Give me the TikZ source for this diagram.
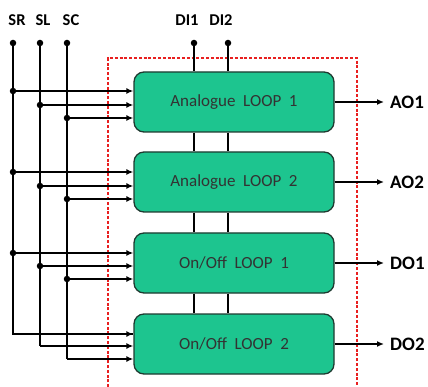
\documentclass[tikz,border=0pt]{standalone}
\usepackage{fontspec}
\setmainfont{Carlito}
\usetikzlibrary{arrows.meta}
\definecolor{boxgreen}{HTML}{1DC58F}
\definecolor{boxline}{HTML}{1E3A30}
\definecolor{dashred}{HTML}{E82020}
\begin{document}
\begin{tikzpicture}[x=1pt,y=-1pt,
  loopbox/.style={draw=boxline,line width=1.3pt,fill=boxgreen,rounded corners=10pt,
    minimum width=200pt,minimum height=60pt,inner sep=0pt,font=\fontsize{17}{20}\selectfont,text=black!80},
  wire/.style={line width=1.4pt,black},
  inarrow/.style={wire,-{Latex[length=7pt,width=6pt]}},
  dot/.style={circle,fill=black,inner sep=0pt,minimum size=6.5pt},
  lbl/.style={font=\bfseries\fontsize{16.5}{19}\selectfont},
  olbl/.style={font=\bfseries\fontsize{19}{22}\selectfont,anchor=west,inner sep=1pt}]
\useasboundingbox (0,0) rectangle (428,387);
% red dashed frame
\draw[dashred,line width=1.3pt,dash pattern=on 3pt off 1.8pt] (108,392) -- (108,58) -- (357,58) -- (357,392);
% boxes
\node[loopbox] (b1) at (234,102) {Analogue\ \ LOOP\ \ 1};
\node[loopbox] (b2) at (234,182) {Analogue\ \ LOOP\ \ 2};
\node[loopbox] (b3) at (234,263) {On/Off\ \ LOOP\ \ 1};
\node[loopbox] (b4) at (234,344) {On/Off\ \ LOOP\ \ 2};
% top terminals
\node[dot] (sr) at (13,43) {};
\node[dot] (sl) at (40,43) {};
\node[dot] (sc) at (67,43) {};
\node[dot] (di1) at (194,43) {};
\node[dot] (di2) at (228,43) {};
\node[lbl] (lsr) at (17,20) {SR};
\node[lbl] (lsl) at (43,20) {SL};
\node[lbl] (lsc) at (71,20) {SC};
\node[lbl] (ldi1) at (187,20) {DI1};
\node[lbl] (ldi2) at (221,20) {DI2};
% branch dots
\node[dot] (r1) at (13,91) {};
\node[dot] (l1) at (40,105) {};
\node[dot] (c1) at (67,118) {};
\node[dot] (r2) at (13,172) {};
\node[dot] (l2) at (40,186) {};
\node[dot] (c2) at (67,199) {};
\node[dot] (r3) at (13,253) {};
\node[dot] (l3) at (40,266) {};
\node[dot] (c3) at (67,279) {};
\coordinate (r4) at (13,334);
\coordinate (l4) at (40,346);
\coordinate (c4) at (67,359);
% vertical buses
\draw[wire] (sr.center) -- (r4) -- (r4 -| b4.west);
\draw[wire] (sl.center) -- (l4);
\draw[wire] (sc.center) -- (c4);
% input arrows
\foreach \n in {1,2,3,4}{
  \draw[inarrow] (r\n) -- (r\n -| b\n.west);
  \draw[inarrow] (l\n) -- (l\n -| b\n.west);
  \draw[inarrow] (c\n) -- (c\n -| b\n.west);
}
% DI lines and inter-box links
\draw[wire] (di1.center) -- (di1 |- b1.north);
\draw[wire] (di2.center) -- (di2 |- b1.north);
\foreach \a/\b in {b1/b2,b2/b3,b3/b4}{
  \draw[wire] (di1 |- \a.south) -- (di1 |- \b.north);
  \draw[wire] (di2 |- \a.south) -- (di2 |- \b.north);
}
% outputs
\node[olbl] (ao1) at (389,102) {AO1};
\node[olbl] (ao2) at (389,182) {AO2};
\node[olbl] (do1) at (389,263) {DO1};
\node[olbl] (do2) at (389,344) {DO2};
\foreach \b/\o in {b1/ao1,b2/ao2,b3/do1,b4/do2}{
  \draw[inarrow] (\b.east) -- ([xshift=-5pt]\o.west);
}
\end{tikzpicture}
\end{document}
